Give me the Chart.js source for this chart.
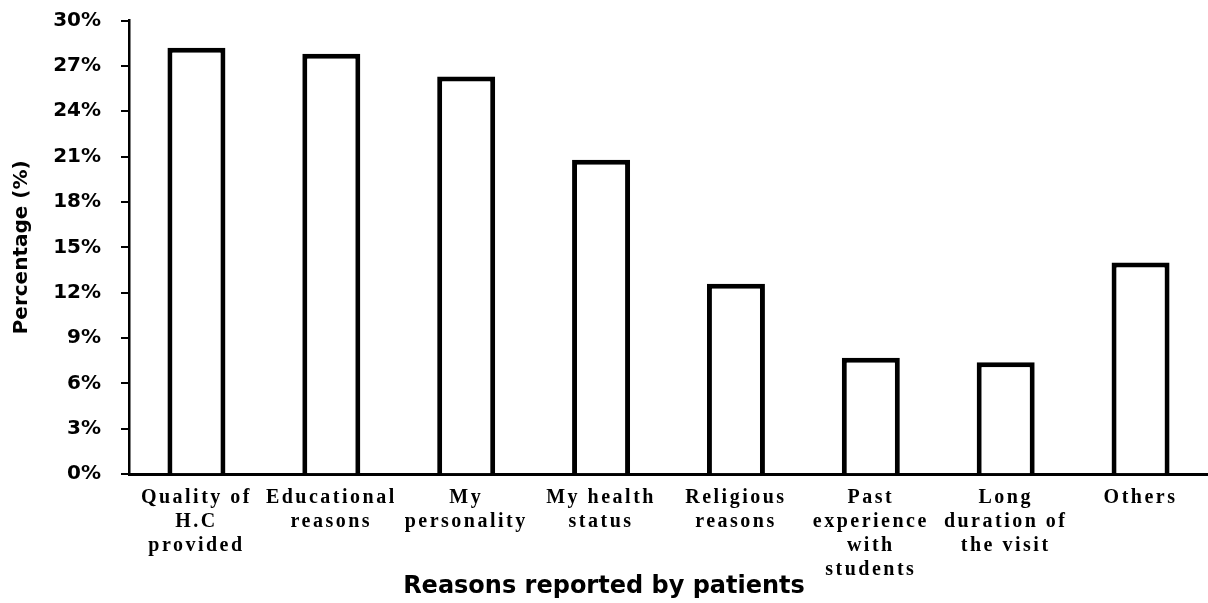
<!DOCTYPE html>
<html>
<head>
<meta charset="utf-8">
<script src="https://cdn.jsdelivr.net/npm/chart.js@4/dist/chart.umd.min.js"></script>
<style>
  html, body { margin: 0; padding: 0; background: #fff; overflow: hidden; }
  #wrap { width: 1208px; height: 603px; }
</style>
</head>
<body>
<div id="wrap"><canvas id="chart" width="1208" height="603"></canvas></div>
<script>
// categories (multi-line labels as in the figure)
const reasons = [
  ["Quality of", "H.C", "provided"],
  ["Educational", "reasons"],
  ["My", "personality"],
  ["My health", "status"],
  ["Religious", "reasons"],
  ["Past", "experience", "with", "students"],
  ["Long", "duration of", "the visit"],
  ["Others"]
];
// percentage of patients per reason
const percentages = [28.2, 27.8, 26.3, 20.8, 12.6, 7.7, 7.4, 14.0];
// y axis range
const yMin = 0;
const yMax = 30;
const yStep = 3;

// the category labels in the figure are drawn with wide letter spacing
const spacingPlugin = {
  id: "labelSpacing",
  beforeDraw(chart) { chart.ctx.letterSpacing = "0px"; },
  afterDatasetsDraw(chart) { chart.ctx.letterSpacing = "2.5px"; },
  afterDraw(chart) { chart.ctx.letterSpacing = "0px"; }
};

const ctx = document.getElementById("chart").getContext("2d");
new Chart(ctx, {
  type: "bar",
  data: {
    labels: reasons,
    datasets: [{
      data: percentages,
      backgroundColor: "#ffffff",
      borderColor: "#000000",
      borderWidth: 5,
      categoryPercentage: 1,
      barPercentage: 0.43
    }]
  },
  plugins: [spacingPlugin],
  options: {
    responsive: false,
    animation: false,
    layout: { padding: { top: 20.5, right: 0, left: 0, bottom: 0 } },
    plugins: {
      legend: { display: false },
      tooltip: { enabled: false },
      title: {
        display: true,
        position: "bottom",
        text: "Reasons reported by patients",
        color: "#000",
        // negative top padding lets the title sit close under the tallest label
        padding: { top: -20, bottom: 2 },
        font: { family: "'DejaVu Sans', Verdana, sans-serif", size: 24, weight: "bold", lineHeight: 1.2 }
      }
    },
    scales: {
      x: {
        grid: { display: false, drawTicks: false },
        border: { display: true, color: "#000", width: 3 },
        afterFit: function (scale) { scale.height = 118; },
        ticks: {
          z: 1,
          color: "#000",
          padding: 12,
          maxRotation: 0,
          autoSkip: false,
          font: { family: "'Liberation Serif', 'Times New Roman', serif", size: 20, weight: "bold", lineHeight: 1.2 }
        }
      },
      y: {
        min: yMin,
        max: yMax,
        afterFit: function (scale) {
          scale.width = 129;
          scale.paddingTop = 0;
          scale.paddingBottom = 0;
        },
        grid: { drawOnChartArea: false, drawTicks: true, tickLength: 8, color: "#000", lineWidth: 2 },
        border: { display: true, color: "#000", width: 2.5 },
        ticks: {
          stepSize: yStep,
          color: "#000",
          padding: 20,
          font: { family: "'DejaVu Sans', Verdana, sans-serif", size: 20, weight: "bold" },
          callback: function (value) { return value + "%"; }
        },
        title: {
          display: true,
          text: "Percentage (%)",
          color: "#000",
          padding: { top: 10, bottom: 0 },
          font: { family: "'DejaVu Sans', Verdana, sans-serif", size: 20, weight: "bold", lineHeight: 1.2 }
        }
      }
    }
  }
});
</script>
</body>
</html>
